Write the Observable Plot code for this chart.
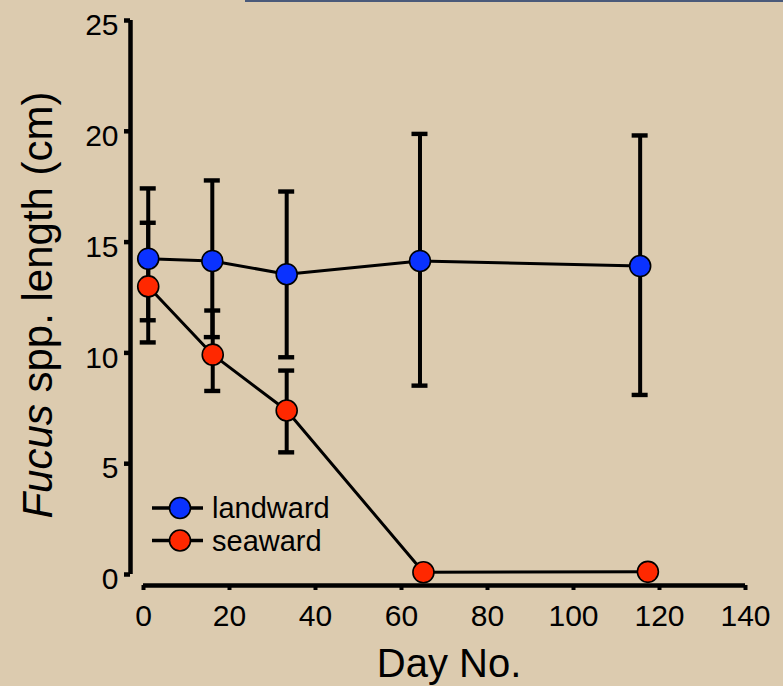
<!DOCTYPE html>
<html><head><meta charset="utf-8">
<script src="https://cdn.jsdelivr.net/npm/d3@7"></script>
<script src="https://cdn.jsdelivr.net/npm/@observablehq/plot@0.6"></script>
<style>
html,body{margin:0;padding:0;background:#dccbaf;}
#wrap{position:relative;width:783px;height:686px;overflow:hidden;background:#dccbaf;font-family:Helvetica,"Liberation Sans",Arial,sans-serif;}
#topbar{position:absolute;left:245px;top:0;width:538px;height:2px;background:#4a5a7a;}
.overlay{position:absolute;left:0;top:0;pointer-events:none;}
</style></head>
<body><div id="wrap"><div id="topbar"></div></div>
<script>
// Data
const landDay  = [1.1, 16.0, 33.3, 64.3, 115.5];
const landMean = [14.25, 14.15, 13.55, 14.15, 13.92];
const landHi   = [17.4, 17.76, 17.26, 19.86, 19.79];
const landLo   = [11.45, 10.69, 9.78, 8.5, 8.08];
const seaDay   = [1.1, 16.1, 33.3, 65.1, 117.3];
const seaMean  = [13.0, 9.92, 7.4, 0.1, 0.12];
const seaHi    = [15.85, 11.89, 9.18, null, null];
const seaLo    = [10.45, 8.26, 5.49, null, null];
const xTicks = [0, 20, 40, 60, 80, 100, 120, 140];
const yTicks = [0, 5, 10, 15, 20, 25];
const seriesNames  = ["landward", "seaward"];
const seriesColors = ["#0a32ff", "#ff2800"];
const xLabel = "Day No.";
const yLabelItalic = "Fucus";
const yLabelRest = " spp. length (cm)";

const rows = [];
landDay.forEach((d, i) => rows.push({series: "landward", day: d, mean: landMean[i], hi: landHi[i], lo: landLo[i]}));
seaDay.forEach((d, i) => rows.push({series: "seaward", day: d, mean: seaMean[i], hi: seaHi[i], lo: seaLo[i]}));
const errRows = rows.filter(r => r.hi != null);
const capRows = errRows.flatMap(r => [{series: r.series, day: r.day, v: r.hi}, {series: r.series, day: r.day, v: r.lo}]);

const font = 'Helvetica,"Liberation Sans",Arial,sans-serif';

const chart = Plot.plot({
  width: 783, height: 686,
  marginLeft: 143, marginRight: 38, marginTop: 20, marginBottom: 112,
  x: {domain: [0, 140]},
  y: {domain: [0, 25]},
  color: {domain: seriesNames, range: seriesColors},
  style: {background: "transparent", fontFamily: font, color: "#000", overflow: "visible"},
  marks: [
    Plot.ruleX([0], {dx: -13, stroke: "#000", strokeWidth: 4.5}),
    Plot.ruleY([0], {dy: 11, stroke: "#000", strokeWidth: 4.5}),
    Plot.axisY({ticks: yTicks, tickSize: 6, text: null, dx: -13, strokeWidth: 4.5, label: null}),
    Plot.axisY({ticks: yTicks, tickSize: 0, tickPadding: 12, dx: -13, dy: 5, fontSize: 30, label: null}),
    Plot.axisX({ticks: xTicks, tickSize: 5, text: null, dy: 11, strokeWidth: 4, label: null}),
    Plot.axisX({ticks: xTicks, tickSize: 0, tickPadding: 19, dy: 11, fontSize: 30, label: null}),
    Plot.ruleX(errRows, {x: "day", y1: "lo", y2: "hi", stroke: "#000", strokeWidth: 4}),
    Plot.rect(capRows, {x1: "day", x2: "day", y1: "v", y2: "v", insetLeft: -8, insetRight: -8, insetTop: -2.2, insetBottom: -2.2, fill: "#000"}),
    Plot.line(rows, {x: "day", y: "mean", z: "series", stroke: "#000", strokeWidth: 3}),
    Plot.dot(rows, {x: "day", y: "mean", r: 10.5, fill: "series", stroke: "#000", strokeWidth: 1.6})
  ]
});
chart.style.position = "absolute";
chart.style.left = "0px";
chart.style.top = "0px";
const wrap = document.getElementById("wrap");
wrap.appendChild(chart);

// Overlay: axis titles and legend
const ns = "http://www.w3.org/2000/svg";
const svg = document.createElementNS(ns, "svg");
svg.setAttribute("width", 783); svg.setAttribute("height", 686);
svg.setAttribute("class", "overlay");
svg.style.fontFamily = font;
function el(tag, attrs, parent) { const e = document.createElementNS(ns, tag); for (const k in attrs) e.setAttribute(k, attrs[k]); (parent || svg).appendChild(e); return e; }

const yl = el("text", {transform: "translate(52,305) rotate(-90)", "text-anchor": "middle", "font-size": 42, fill: "#000"});
const t1 = el("tspan", {"font-style": "italic"}, yl); t1.textContent = yLabelItalic;
const t2 = el("tspan", {}, yl); t2.textContent = yLabelRest;

const xl = el("text", {x: 449, y: 677, "text-anchor": "middle", "font-size": 40, fill: "#000"});
xl.textContent = xLabel;

seriesNames.forEach((name, i) => {
  const cy = 508 + i * 32.5;
  el("line", {x1: 152, x2: 203, y1: cy, y2: cy, stroke: "#000", "stroke-width": 3.5});
  el("circle", {cx: 180, cy: cy, r: 10.5, fill: seriesColors[i], stroke: "#000", "stroke-width": 1.6});
  const t = el("text", {x: 212, y: cy, "dominant-baseline": "central", "font-size": 29, fill: "#000"});
  t.textContent = name;
});
wrap.appendChild(svg);
</script>
</body></html>
